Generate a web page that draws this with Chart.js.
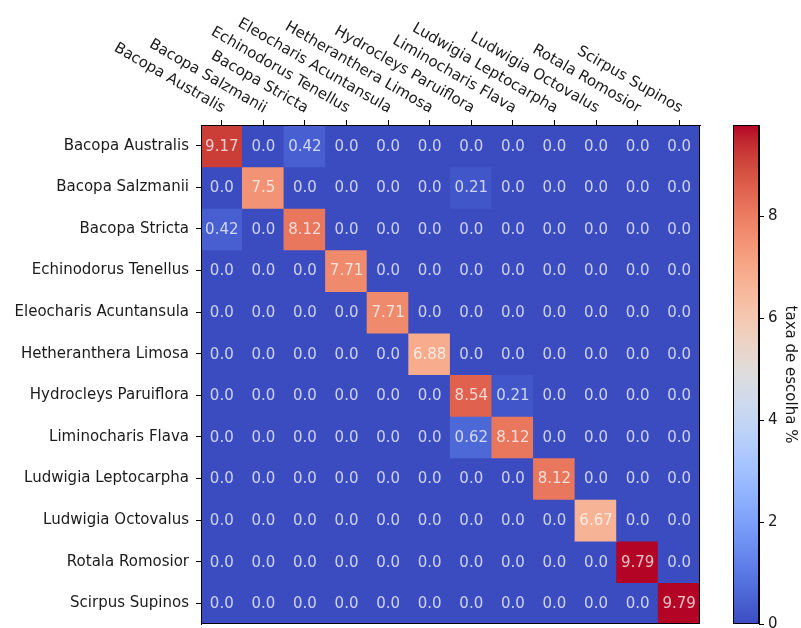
<!DOCTYPE html>
<html>
<head>
<meta charset="utf-8">
<script src="https://cdn.jsdelivr.net/npm/chart.js@4"></script>
<style>
  html, body { margin: 0; padding: 0; background: #ffffff; }
  #wrap { position: relative; width: 801px; height: 628px; }
  #heat { position: absolute; left: 0; top: 0; }
  #bar { position: absolute; left: 700px; top: 0; }
</style>
</head>
<body>
<div id="wrap">
  <canvas id="heat" width="801" height="628"></canvas>
  <canvas id="bar" width="101" height="628"></canvas>
</div>
<script>
// Species (same order on both axes)
const species = [
  'Bacopa Australis', 'Bacopa Salzmanii', 'Bacopa Stricta', 'Echinodorus Tenellus',
  'Eleocharis Acuntansula', 'Hetheranthera Limosa', 'Hydrocleys Paruiflora',
  'Liminocharis Flava', 'Ludwigia Leptocarpha', 'Ludwigia Octovalus',
  'Rotala Romosior', 'Scirpus Supinos'
];

// Choice rate (%) per row species / column species
const rates = [
  [9.17, 0, 0.42, 0, 0, 0, 0, 0, 0, 0, 0, 0],
  [0, 7.5, 0, 0, 0, 0, 0.21, 0, 0, 0, 0, 0],
  [0.42, 0, 8.12, 0, 0, 0, 0, 0, 0, 0, 0, 0],
  [0, 0, 0, 7.71, 0, 0, 0, 0, 0, 0, 0, 0],
  [0, 0, 0, 0, 7.71, 0, 0, 0, 0, 0, 0, 0],
  [0, 0, 0, 0, 0, 6.88, 0, 0, 0, 0, 0, 0],
  [0, 0, 0, 0, 0, 0, 8.54, 0.21, 0, 0, 0, 0],
  [0, 0, 0, 0, 0, 0, 0.62, 8.12, 0, 0, 0, 0],
  [0, 0, 0, 0, 0, 0, 0, 0, 8.12, 0, 0, 0],
  [0, 0, 0, 0, 0, 0, 0, 0, 0, 6.67, 0, 0],
  [0, 0, 0, 0, 0, 0, 0, 0, 0, 0, 9.79, 0],
  [0, 0, 0, 0, 0, 0, 0, 0, 0, 0, 0, 9.79]
];

const colorbarTicks = [0, 2, 4, 6, 8];
const colorbarTitle = 'taxa de escolha %';

const vmax = Math.max(...rates.flat());
const FONT = { family: 'DejaVu Sans', size: 15 };
const TEXT = '#1a1a1a';
const ROT = 30 * Math.PI / 180;

// coolwarm diverging map, 33 control colours
const CW = [
  [59,76,192],[68,90,204],[77,104,215],[87,117,225],[98,130,234],[108,142,241],
  [119,154,247],[130,165,251],[141,176,254],[152,185,255],[163,194,255],[174,201,253],
  [184,208,249],[194,213,244],[204,217,238],[213,219,230],[221,221,221],[229,216,209],
  [236,211,197],[241,204,184],[245,196,172],[247,187,159],[247,177,147],[247,166,134],
  [244,154,123],[241,141,111],[236,127,99],[229,112,89],[222,96,77],[213,80,66],
  [203,62,56],[192,40,47],[180,4,38]
];
function coolwarm(t) {
  t = Math.max(0, Math.min(1, t));
  const p = t * (CW.length - 1);
  const i = Math.min(Math.floor(p), CW.length - 2);
  const f = p - i;
  const c = CW[i].map((v, k) => Math.round(v + (CW[i + 1][k] - v) * f));
  return `rgb(${c[0]},${c[1]},${c[2]})`;
}
const fmt = v => Number.isInteger(v) ? v.toFixed(1) : String(v);

// Keep the plot box free of label overhang padding
const noPad = s => { s.paddingTop = 0; s.paddingBottom = 0; s.paddingLeft = 0; s.paddingRight = 0; };

// Cell values, rotated column labels and the frame
const heatDecor = {
  id: 'heatDecor',
  afterDatasetsDraw(chart) {
    const { ctx, scales: { x, y } } = chart;
    ctx.save();
    ctx.font = `${FONT.size}px ${FONT.family}`;
    ctx.fillStyle = 'rgba(255,255,255,0.74)';
    ctx.textAlign = 'center';
    ctx.textBaseline = 'middle';
    rates.forEach((row, r) => row.forEach((v, c) => {
      ctx.fillText(fmt(v), x.getPixelForValue(c), y.getPixelForValue(r) + 1);
    }));
    ctx.restore();
  },
  afterDraw(chart) {
    const { ctx, chartArea: a, scales: { x } } = chart;
    ctx.save();
    ctx.strokeStyle = '#000';
    ctx.lineWidth = 1;
    ctx.strokeRect(a.left + 0.5, a.top + 0.5, a.right - a.left - 1, a.bottom - a.top - 1);
    ctx.font = `${FONT.size}px ${FONT.family}`;
    ctx.fillStyle = TEXT;
    ctx.textAlign = 'right';
    ctx.textBaseline = 'alphabetic';
    species.forEach((name, i) => {
      ctx.save();
      ctx.translate(x.getPixelForValue(i), a.top - 12);
      ctx.rotate(ROT);
      ctx.fillText(name, 0, 0);
      ctx.restore();
    });
    ctx.restore();
  }
};

new Chart(document.getElementById('heat'), {
  type: 'bar',
  data: {
    labels: species,
    datasets: rates.map((row, r) => ({
      label: species[r],
      data: row.map((v, c) => ({ x: species[c], y: [r - 0.5, r + 0.5], v })),
      backgroundColor: ctx => coolwarm(ctx.raw.v / vmax),
      borderWidth: 0,
      inflateAmount: 0.6,
      grouped: false,
      barPercentage: 1,
      categoryPercentage: 1
    }))
  },
  options: {
    responsive: false,
    animation: false,
    layout: { padding: { left: 0, top: 0, right: 101, bottom: 4 } },
    plugins: { legend: { display: false }, tooltip: { enabled: false } },
    scales: {
      x: {
        type: 'category',
        position: 'top',
        offset: true,
        grid: { offset: false, drawOnChartArea: false, drawTicks: true, tickLength: 5, tickWidth: 1, tickColor: '#000' },
        border: { display: true, color: '#000', width: 1 },
        ticks: { display: false },
        afterFit: s => { s.height = 125; noPad(s); }
      },
      y: {
        type: 'linear',
        min: -0.5,
        max: 11.5,
        reverse: true,
        afterBuildTicks: s => { s.ticks = species.map((_, i) => ({ value: i })); },
        grid: { drawOnChartArea: false, drawTicks: true, tickLength: 5, tickWidth: 1, tickColor: '#000' },
        border: { display: true, color: '#000', width: 1 },
        ticks: { autoSkip: false, font: FONT, color: TEXT, padding: 7, callback: v => species[v] },
        afterFit: s => { s.width = 201; noPad(s); }
      }
    }
  },
  plugins: [heatDecor]
});

// Colour bar
const barFrame = {
  id: 'barFrame',
  afterDraw(chart) {
    const { ctx, chartArea: a } = chart;
    ctx.save();
    ctx.strokeStyle = '#000';
    ctx.lineWidth = 1;
    ctx.strokeRect(a.left + 0.5, a.top + 0.5, a.right - a.left - 1, a.bottom - a.top - 1);
    ctx.restore();
  }
};

new Chart(document.getElementById('bar'), {
  type: 'bar',
  data: {
    labels: [''],
    datasets: [{
      data: [[0, vmax]],
      borderWidth: 0,
      barPercentage: 1,
      categoryPercentage: 1,
      backgroundColor: ctx => {
        const { chart } = ctx;
        const a = chart.chartArea;
        if (!a) return 'rgb(59,76,192)';
        const g = chart.ctx.createLinearGradient(0, a.bottom, 0, a.top);
        CW.forEach((c, i) => g.addColorStop(i / (CW.length - 1), `rgb(${c[0]},${c[1]},${c[2]})`));
        return g;
      }
    }]
  },
  options: {
    responsive: false,
    animation: false,
    layout: { padding: { left: 33, top: 125, right: 0, bottom: 4 } },
    plugins: { legend: { display: false }, tooltip: { enabled: false } },
    scales: {
      x: { display: false },
      y: {
        position: 'right',
        min: 0,
        max: vmax,
        afterBuildTicks: s => { s.ticks = colorbarTicks.map(v => ({ value: v })); },
        grid: { drawOnChartArea: false, drawTicks: true, tickLength: 5, tickWidth: 1, tickColor: '#000' },
        border: { display: true, color: '#000', width: 1 },
        ticks: { font: FONT, color: TEXT, padding: 4 },
        title: { display: true, text: colorbarTitle, font: FONT, color: TEXT, padding: { top: 2, bottom: 0 } },
        afterFit: s => { s.width = 42; noPad(s); }
      }
    }
  },
  plugins: [barFrame]
});
</script>
</body>
</html>
